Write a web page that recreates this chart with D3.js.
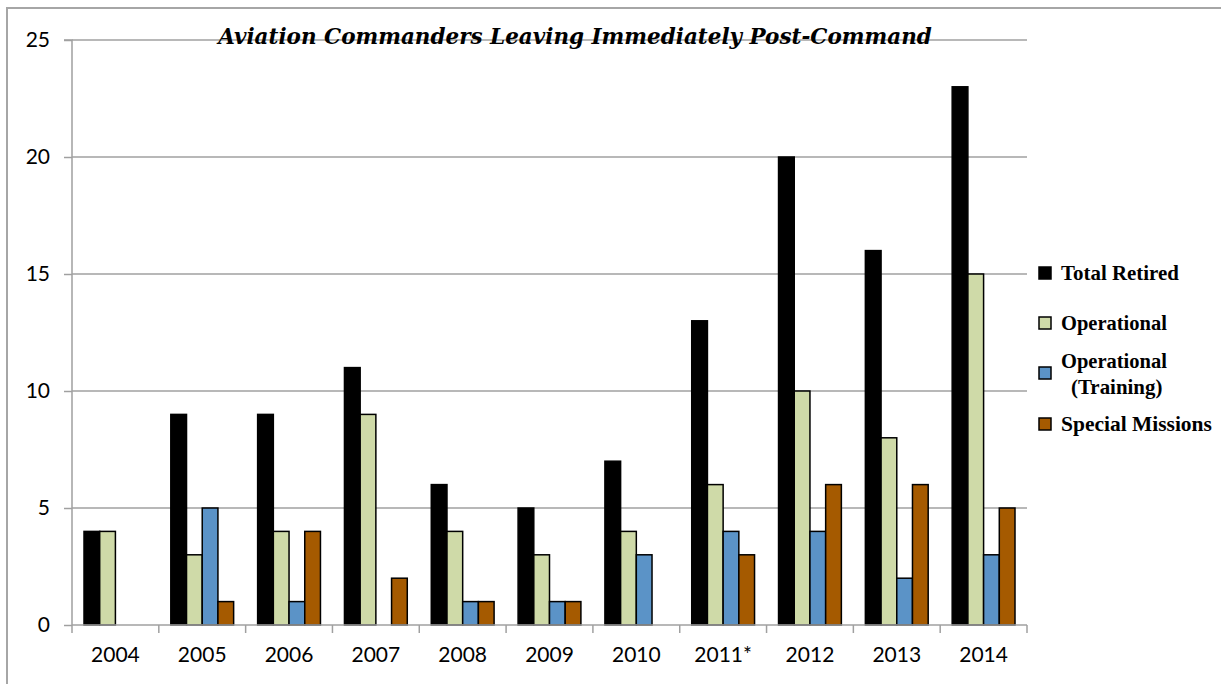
<!DOCTYPE html>
<html><head><meta charset="utf-8">
<script src="https://cdn.jsdelivr.net/npm/d3@7/dist/d3.min.js"></script>
<style>body{margin:0;background:#fff}svg{display:block}</style>
</head><body>
<svg id="c" width="1221" height="684"></svg>
<script>
const categories = ["2004","2005","2006","2007","2008","2009","2010","2011*","2012","2013","2014"];
const seriesNames = ["Total Retired","Operational","Operational (Training)","Special Missions"];
const totalRetired = [4,9,9,11,6,5,7,13,20,16,23];
const operational = [4,3,4,9,4,3,4,6,10,8,15];
const operationalTraining = [0,5,1,0,1,1,3,4,4,2,3];
const specialMissions = [0,1,4,2,1,1,0,3,6,6,5];
const yTicks = [0,5,10,15,20,25];
const colors = ["#000000","#cfdaa8","#5b93c7","#a55a00"];
const title = "Aviation Commanders Leaving Immediately Post-Command";

const series = [totalRetired, operational, operationalTraining, specialMissions];
const svg = d3.select("#c");
const L = 72, R = 1027, T = 40, B = 625;

svg.append("rect").attr("x",7).attr("y",8).attr("width",1230).attr("height",700)
  .attr("fill","none").attr("stroke","#a6a6a6").attr("stroke-width",2);

const x0 = d3.scaleBand().domain(categories).range([L,R]).paddingInner(0).paddingOuter(0);
const x1 = d3.scaleBand().domain(d3.range(4)).range([12, x0.bandwidth()-12]);
const y = d3.scaleLinear().domain([0,25]).range([B,T]);

// gridlines
svg.append("g").selectAll("line").data(yTicks.filter(d=>d>0)).join("line")
  .attr("x1",L).attr("x2",R).attr("y1",d=>y(d)).attr("y2",d=>y(d))
  .attr("stroke","#a0a0a0").attr("stroke-width",1.5);

// bars
const g = svg.append("g");
categories.forEach((c,i)=>{
  series.forEach((s,j)=>{
    if (s[i] <= 0) return;
    g.append("rect")
      .attr("x", x0(c)+x1(j)).attr("width", x1.bandwidth())
      .attr("y", y(s[i])).attr("height", y(0)-y(s[i]))
      .attr("fill", colors[j]).attr("stroke","#000").attr("stroke-width",1.5);
  });
});

// y axis
const ya = d3.axisLeft(y).tickValues(yTicks).tickSize(8).tickPadding(14).tickFormat(d3.format("d"));
const yg = svg.append("g").attr("transform",`translate(${L},0)`).call(ya);
yg.select(".domain").attr("stroke","#a0a0a0").attr("stroke-width",1.5).attr("d",`M-8,${T}H0V${B}`);
yg.selectAll(".tick line").attr("stroke","#a0a0a0").attr("stroke-width",1.5);
yg.selectAll(".tick text").attr("font-family","Lato, 'Open Sans', sans-serif").attr("font-size",21).attr("fill","#000");

// x axis
const xa = d3.axisBottom(x0).tickSize(0).tickPadding(22);
const xg = svg.append("g").attr("transform",`translate(0,${B})`).call(xa);
xg.select(".domain").attr("stroke","#a0a0a0").attr("stroke-width",1.5).attr("d",`M${L},0H${R}`);
xg.selectAll(".tick text").attr("font-family","Lato, 'Open Sans', sans-serif").attr("font-size",21).attr("fill","#000");
const bounds = categories.map(c=>x0(c)).concat([R]);
xg.append("g").selectAll("line").data(bounds).join("line")
  .attr("x1",d=>d).attr("x2",d=>d).attr("y1",0).attr("y2",8)
  .attr("stroke","#a0a0a0").attr("stroke-width",1.5);

function fit(t, w){
  const len = t.node().getComputedTextLength();
  const fs = parseFloat(t.attr("font-size"));
  t.attr("font-size", fs*w/len);
}

// title
const tt = svg.append("text").attr("x",575).attr("y",44).attr("text-anchor","middle")
  .attr("font-family","'DejaVu Serif', serif").attr("font-style","italic").attr("font-weight","bold")
  .attr("font-size",22).text(title);
fit(tt, 714);

// legend
const legend = [
  {i:0, sy:273, lines:["Total Retired"], ly:[280], w:118},
  {i:1, sy:323, lines:["Operational"], ly:[330], w:106},
  {i:2, sy:373, lines:["Operational","(Training)"], ly:[368,394], w:106},
  {i:3, sy:424, lines:["Special Missions"], ly:[431], w:151}
];
const lg = svg.append("g");
legend.forEach(d=>{
  lg.append("rect").attr("x",1039).attr("y",d.sy-6).attr("width",12).attr("height",12)
    .attr("fill",colors[d.i]).attr("stroke","#000").attr("stroke-width",1.5);
  d.lines.forEach((ln,k)=>{
    const t = lg.append("text").attr("x", k===0?1061:1071).attr("y",d.ly[k])
      .attr("font-family","'Liberation Serif', serif").attr("font-weight","bold")
      .attr("font-size",18).text(ln);
    if (k===0) fit(t, d.w);
    else t.attr("font-size", lg.select("text").attr("font-size"));
  });
});
</script>
</body></html>
